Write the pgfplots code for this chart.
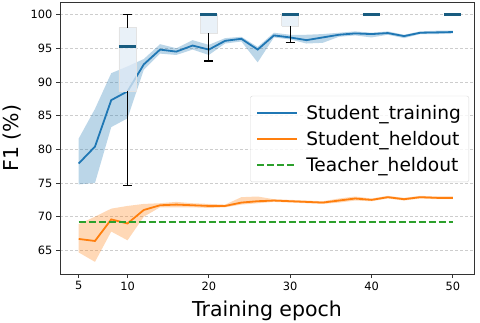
\documentclass[border=0pt]{standalone}
\usepackage{pgfplots}
\pgfplotsset{compat=1.18}
\usepackage{pgfplotstable}
\usepackage{fontspec}
\setmainfont{DejaVu Sans}

\definecolor{tabblue}{RGB}{31,119,180}
\definecolor{taborange}{RGB}{255,127,14}
\definecolor{tabgreen}{RGB}{44,160,44}
\definecolor{boxfill}{RGB}{226,236,246}
\definecolor{medianc}{RGB}{24,92,128}
\definecolor{gridc}{RGB}{205,205,205}

% epoch, mean F1
\pgfplotstableread{
e   m
4   77.9
6   80.4
8   87.3
10  88.6
12  92.6
14  94.8
16  94.5
18  95.4
20  94.8
22  96.1
24  96.4
26  94.8
28  96.9
30  96.6
32  96.2
34  96.6
36  97.0
38  97.2
40  97.1
42  97.25
44  96.8
46  97.3
48  97.35
50  97.4
}\training

\pgfplotstableread{
e   m
4   66.7
6   66.4
8   69.6
10  69.0
12  71.0
14  71.7
16  71.8
18  71.7
20  71.6
22  71.6
24  72.1
26  72.3
28  72.4
30  72.3
32  72.2
34  72.1
36  72.4
38  72.7
40  72.5
42  72.9
44  72.6
46  72.9
48  72.8
50  72.8
}\heldout

\begin{document}
\begin{tikzpicture}
\begin{axis}[
    scale only axis,
    width=414pt, height=272pt,
    xmin=1.7, xmax=52.6,
    ymin=61.5, ymax=101.86,
    xtick={4,10,20,30,40,50},
    xticklabels={5,10,20,30,40,50},
    ytick={65,70,75,80,85,90,95,100},
    tick align=outside,
    xtick pos=bottom, ytick pos=left,
    major tick length=4pt,
    tick style={black!80, line width=0.8pt},
    axis line style={black!80, line width=0.8pt},
    ymajorgrids,
    grid style={gridc, dash pattern=on 3pt off 2pt, line width=0.8pt},
    /pgf/number format/assume math mode=true,
    ticklabel style={font=\fontsize{11.4}{13}\selectfont},
    xlabel={Training epoch},
    ylabel={F1 (\%)},
    every axis x label/.style={at={(axis description cs:0.5,-0.1544)}, anchor=base, font=\fontsize{20.5}{24}\selectfont},
    every axis y label/.style={at={(axis description cs:-0.116,0.5)}, anchor=center, rotate=90, font=\fontsize{20.5}{24}\selectfont},
    legend style={at={(rel axis cs:0.988,0.655)}, anchor=north east,
        draw=gray!30, rounded corners=2pt, fill=white, fill opacity=0.8, text opacity=1,
        font=\fontsize{18.6}{22}\selectfont, row sep=6.5pt, inner xsep=6pt, inner ysep=7pt,
        /tikz/every odd column/.append style={column sep=6pt}},
    legend cell align=left,
    legend image code/.code={\draw[#1] (0pt,0pt) -- (40pt,0pt);},
    boxst/.style={fill=boxfill, fill opacity=0.75, draw=gray!22, line width=0.8pt, forget plot},
    whisk/.style={black, line width=1.1pt, forget plot},
    med/.style={medianc, line width=2.6pt, forget plot},
]
% spread bands: upper edge left to right, then lower edge right to left
\addplot[fill=tabblue, fill opacity=0.3, draw=none, forget plot] coordinates {
  (4,81.6) (6,86.0) (8,91.3) (10,92.3) (12,93.4) (14,95.6) (16,95.0) (18,96.2)
  (20,95.5) (22,96.5) (24,96.7) (26,95.2) (28,97.3) (30,97.0) (32,97.0) (34,97.1)
  (36,97.3) (38,97.5) (40,97.3) (42,97.5) (44,97.0) (46,97.5) (48,97.6) (50,97.6)
  (50,97.2) (48,97.1) (46,97.1) (44,96.5) (42,97.0) (40,96.6) (38,96.9) (36,96.7)
  (34,95.8) (32,95.7) (30,96.3) (28,96.6) (26,92.9) (24,96.0) (22,95.7) (20,94.0)
  (18,94.8) (16,94.0) (14,94.2) (12,91.8) (10,84.6) (8,83.3) (6,75.0) (4,74.8)
};
\addplot[fill=taborange, fill opacity=0.3, draw=none, forget plot] coordinates {
  (4,68.9) (6,70.0) (8,71.2) (10,71.6) (12,71.9) (14,72.0) (16,72.2) (18,72.0)
  (20,71.9) (22,71.8) (24,72.9) (26,73.0) (28,72.6) (30,72.5) (32,72.4) (34,72.3)
  (36,72.7) (38,73.0) (40,72.7) (42,73.1) (44,72.8) (46,73.1) (48,73.0) (50,73.0)
  (50,72.6) (48,72.6) (46,72.7) (44,72.4) (42,72.7) (40,72.3) (38,72.4) (36,72.1)
  (34,71.9) (32,72.0) (30,72.1) (28,72.2) (26,72.0) (24,71.8) (22,71.4) (20,71.3)
  (18,71.4) (16,71.4) (14,71.4) (12,70.0) (10,66.5) (8,67.8) (6,63.3) (4,64.7)
};

% lines
\addplot[tabblue, line width=1.8pt] table[x=e, y=m] {\training};
\addlegendentry{Student\_training}
\addplot[taborange, line width=1.8pt] table[x=e, y=m] {\heldout};
\addlegendentry{Student\_heldout}
\addplot[tabgreen, line width=1.8pt, dash pattern=on 7pt off 3pt] coordinates {(4,69.25) (50,69.25)};
\addlegendentry{Teacher\_heldout}

% box plots at epochs 10, 20, 30, 40, 50
\addplot[boxst] coordinates {(8.95,88.65) (11.05,88.65) (11.05,98.04) (8.95,98.04) (8.95,88.65)};
\addplot[whisk] coordinates {(10,98.04) (10,100)};
\addplot[whisk] coordinates {(9.45,100) (10.55,100)};
\addplot[whisk] coordinates {(10,88.65) (10,74.66)};
\addplot[whisk] coordinates {(9.45,74.66) (10.55,74.66)};
\addplot[med] coordinates {(8.95,95.3) (11.05,95.3)};

\addplot[boxst] coordinates {(18.95,97.2) (21.05,97.2) (21.05,100) (18.95,100) (18.95,97.2)};
\addplot[whisk] coordinates {(20,97.2) (20,93.1)};
\addplot[whisk] coordinates {(19.45,93.1) (20.55,93.1)};
\addplot[med] coordinates {(18.95,100) (21.05,100)};

\addplot[boxst] coordinates {(28.95,98.3) (31.05,98.3) (31.05,100) (28.95,100) (28.95,98.3)};
\addplot[whisk] coordinates {(30,98.3) (30,95.9)};
\addplot[whisk] coordinates {(29.45,95.9) (30.55,95.9)};
\addplot[med] coordinates {(28.95,100) (31.05,100)};

\addplot[med] coordinates {(38.95,100) (41.05,100)};
\addplot[med] coordinates {(48.95,100) (51.05,100)};
\end{axis}
\pgfresetboundingbox
\path[use as bounding box] ([xshift=-60pt,yshift=-48pt]current axis.south west) rectangle ([xshift=6pt,yshift=2pt]current axis.north east);
\end{tikzpicture}
\end{document}
